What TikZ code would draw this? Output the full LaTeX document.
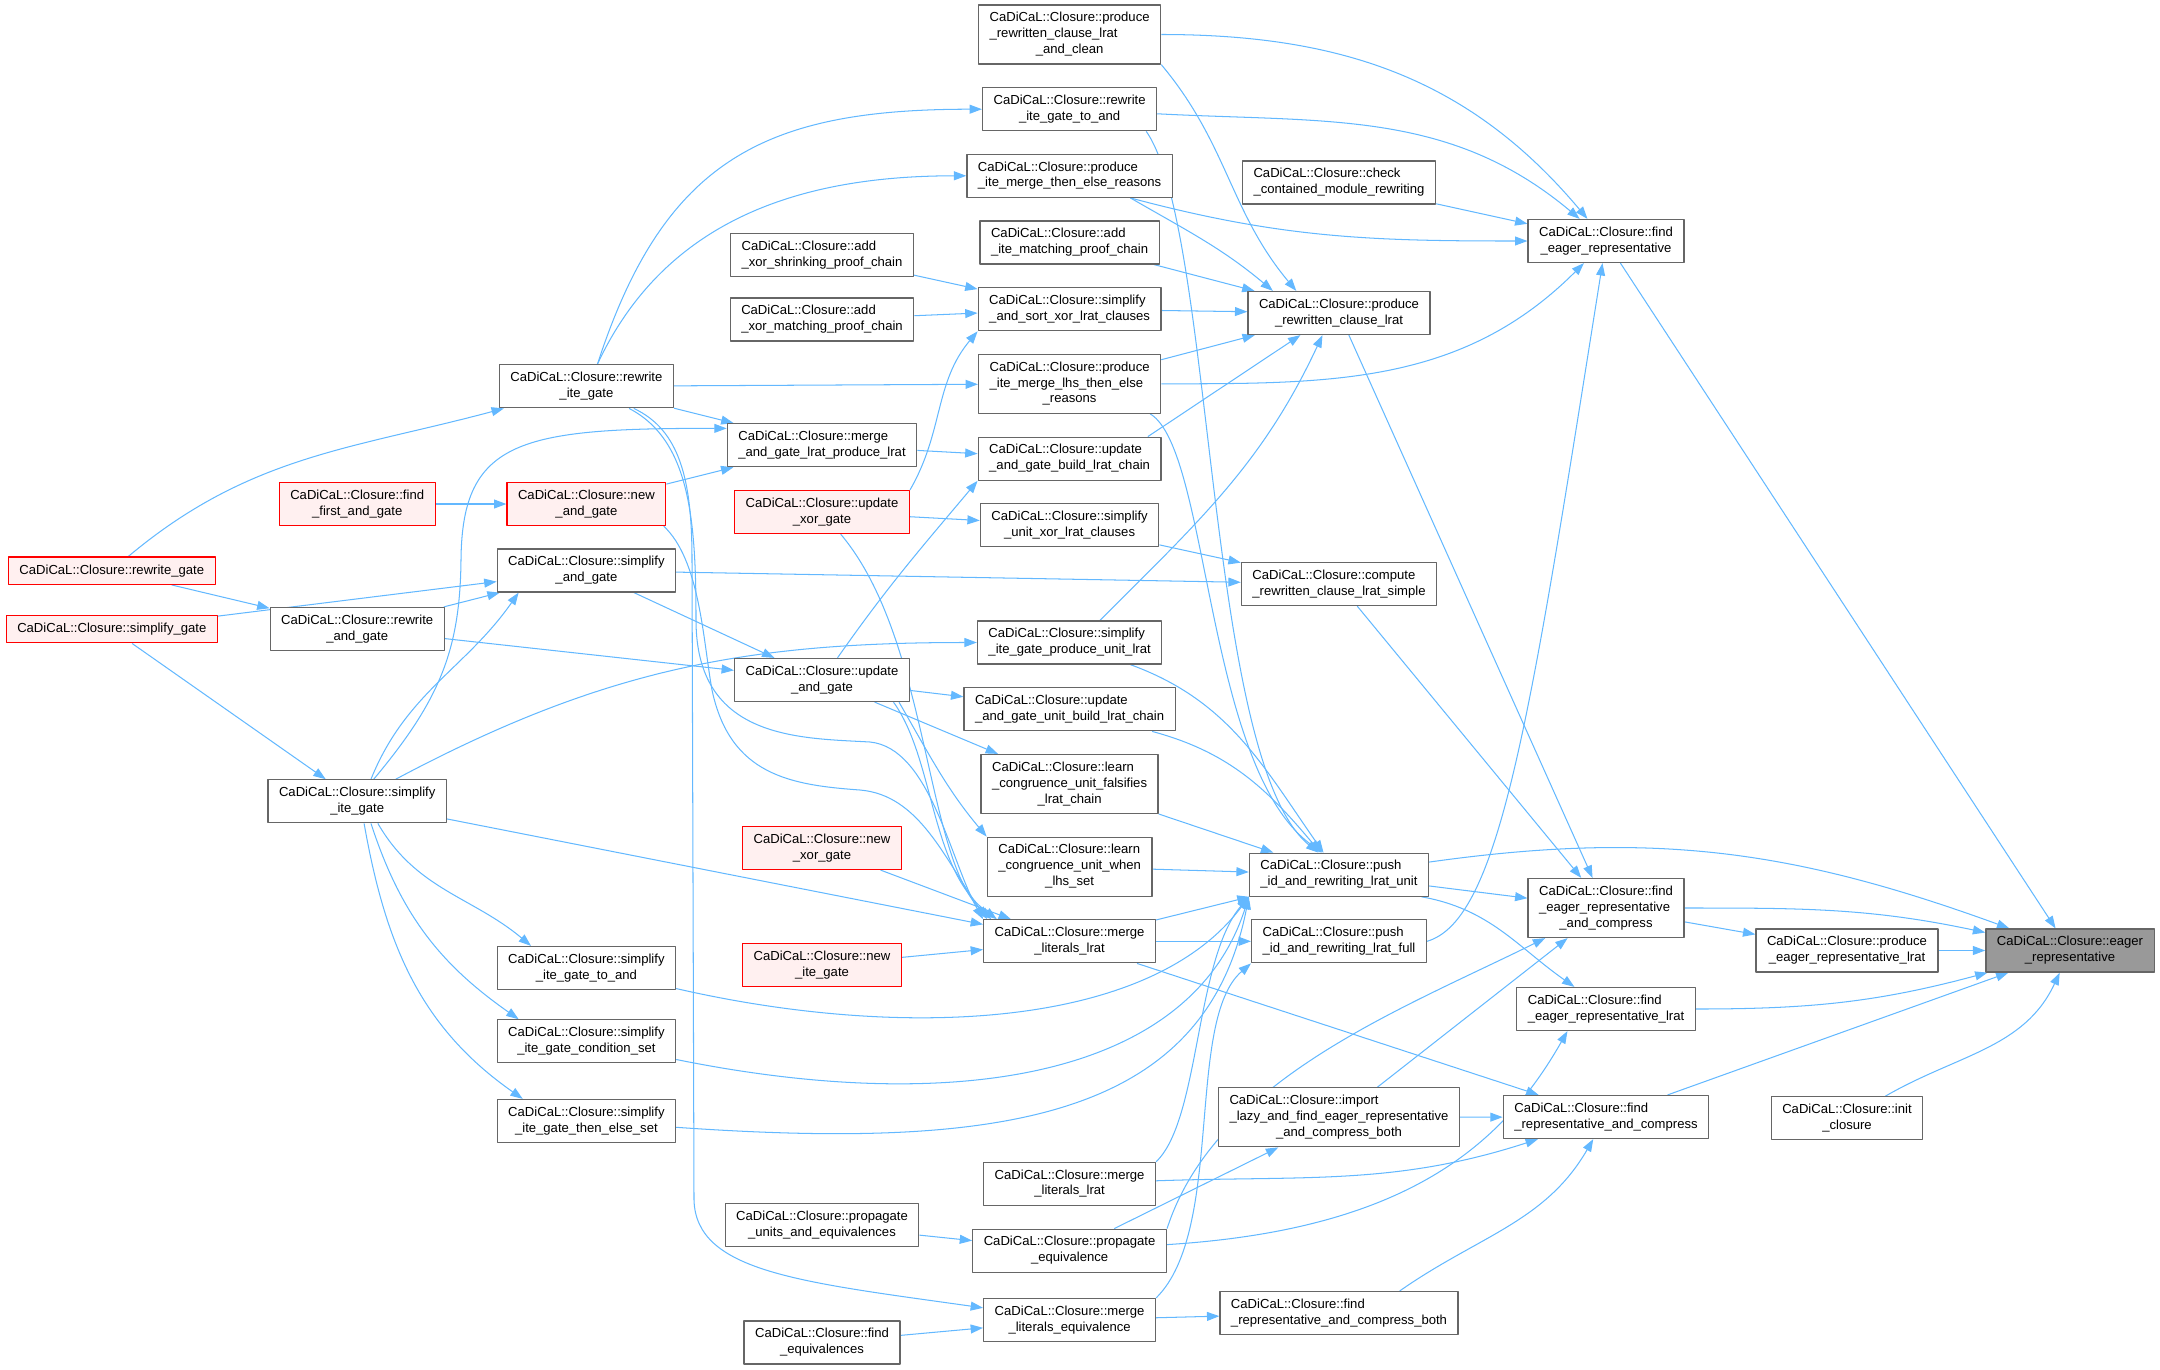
\documentclass[tikz,border=0pt]{standalone}
\usepackage{fontspec}
\setmainfont{Liberation Sans}
\usetikzlibrary{arrows.meta,backgrounds}
\definecolor{edgeblue}{HTML}{63B8FF}
\definecolor{boxgray}{HTML}{666666}
\definecolor{maingray}{HTML}{999999}
\definecolor{redfill}{HTML}{FFF0F0}
\newcommand{\fnfont}{\fontsize{9.5}{11.6}\selectfont}
\newcommand{\lbltwo}[2]{\begin{tabular}{@{}l@{}}#1\\\multicolumn{1}{@{}c@{}}{#2}\end{tabular}}
\newcommand{\lblthree}[3]{\begin{tabular}{@{}l@{}}#1\\#2\\\multicolumn{1}{@{}c@{}}{#3}\end{tabular}}

\begin{document}
\begin{tikzpicture}[x=0.726pt,y=-0.726pt,line cap=round,line join=round,
  fn/.style={draw=boxgray,fill=white,line width=0.9pt,inner xsep=8pt,inner ysep=4pt,minimum height=19.8pt,font=\fnfont,text=black},
  fnred/.style={fn,draw=red,fill=redfill},
  fnmain/.style={fn,fill=maingray},
  call/.style={draw=edgeblue,line width=0.75pt,-{Triangle[length=9pt,width=6.5pt]}}]
  \useasboundingbox (0,0) rectangle (2160,1369);

  % callee and its direct callers
  \node[fnmain] (eager) at (2070,950.5) {\lbltwo{CaDiCaL::Closure::eager}{\_representative}};
  \node[fn] (pelrat) at (1847,950.5) {\lbltwo{CaDiCaL::Closure::produce}{\_eager\_representative\_lrat}};
  \node[fn] (init) at (1847,1118.3) {\lbltwo{CaDiCaL::Closure::init}{\_closure}};
  \node[fn] (findeager) at (1606,241) {\lbltwo{CaDiCaL::Closure::find}{\_eager\_representative}};
  \node[fn] (fercomp) at (1606,908) {\lblthree{CaDiCaL::Closure::find}{\_eager\_representative}{\_and\_compress}};
  \node[fn] (ferlrat) at (1606,1009) {\lbltwo{CaDiCaL::Closure::find}{\_eager\_representative\_lrat}};
  \node[fn] (frc) at (1606,1117) {\lbltwo{CaDiCaL::Closure::find}{\_representative\_and\_compress}};

  \node[fn] (check) at (1339,182.5) {\lbltwo{CaDiCaL::Closure::check}{\_contained\_module\_rewriting}};
  \node[fn] (prclrat) at (1339,313) {\lbltwo{CaDiCaL::Closure::produce}{\_rewritten\_clause\_lrat}};
  \node[fn] (simple) at (1339,584) {\lbltwo{CaDiCaL::Closure::compute}{\_rewritten\_clause\_lrat\_simple}};
  \node[fn] (pushunit) at (1339,874.7) {\lbltwo{CaDiCaL::Closure::push}{\_id\_and\_rewriting\_lrat\_unit}};
  \node[fn] (pushfull) at (1339,941.3) {\lbltwo{CaDiCaL::Closure::push}{\_id\_and\_rewriting\_lrat\_full}};
  \node[fn] (import) at (1339,1117.3) {\lblthree{CaDiCaL::Closure::import}{\_lazy\_and\_find\_eager\_representative}{\_and\_compress\_both}};
  \node[fn] (frcboth) at (1339,1313) {\lbltwo{CaDiCaL::Closure::find}{\_representative\_and\_compress\_both}};

  \node[fn] (clean) at (1069.6,34.5) {\lblthree{CaDiCaL::Closure::produce}{\_rewritten\_clause\_lrat}{\_and\_clean}};
  \node[fn] (rite2and) at (1069.6,109.2) {\lbltwo{CaDiCaL::Closure::rewrite}{\_ite\_gate\_to\_and}};
  \node[fn] (itemte) at (1069.6,175.8) {\lbltwo{CaDiCaL::Closure::produce}{\_ite\_merge\_then\_else\_reasons}};
  \node[fn] (iteproof) at (1069.6,242.5) {\lbltwo{CaDiCaL::Closure::add}{\_ite\_matching\_proof\_chain}};
  \node[fn] (sortxor) at (1069.6,309.2) {\lbltwo{CaDiCaL::Closure::simplify}{\_and\_sort\_xor\_lrat\_clauses}};
  \node[fn] (lhste) at (1069.6,383.8) {\lblthree{CaDiCaL::Closure::produce}{\_ite\_merge\_lhs\_then\_else}{\_reasons}};
  \node[fn] (andbuild) at (1069.6,458.7) {\lbltwo{CaDiCaL::Closure::update}{\_and\_gate\_build\_lrat\_chain}};
  \node[fn] (unitxor) at (1069.6,525.3) {\lbltwo{CaDiCaL::Closure::simplify}{\_unit\_xor\_lrat\_clauses}};
  \node[fn] (iteunit) at (1069.6,642.5) {\lbltwo{CaDiCaL::Closure::simplify}{\_ite\_gate\_produce\_unit\_lrat}};
  \node[fn] (andunit) at (1069.6,709.3) {\lbltwo{CaDiCaL::Closure::update}{\_and\_gate\_unit\_build\_lrat\_chain}};
  \node[fn] (falsif) at (1069.6,784) {\lblthree{CaDiCaL::Closure::learn}{\_congruence\_unit\_falsifies}{\_lrat\_chain}};
  \node[fn] (whenlhs) at (1069.6,866.7) {\lblthree{CaDiCaL::Closure::learn}{\_congruence\_unit\_when}{\_lhs\_set}};
  \node[fn] (mlrat1) at (1069.6,941.3) {\lbltwo{CaDiCaL::Closure::merge}{\_literals\_lrat}};
  \node[fn] (mlrat2) at (1069.6,1183.8) {\lbltwo{CaDiCaL::Closure::merge}{\_literals\_lrat}};
  \node[fn] (propeq) at (1069.6,1250.7) {\lbltwo{CaDiCaL::Closure::propagate}{\_equivalence}};
  \node[fn] (mleq) at (1069.6,1320) {\lbltwo{CaDiCaL::Closure::merge}{\_literals\_equivalence}};

  \node[fn] (addxorshrink) at (822,255) {\lbltwo{CaDiCaL::Closure::add}{\_xor\_shrinking\_proof\_chain}};
  \node[fn] (addxormatch) at (822,319.6) {\lbltwo{CaDiCaL::Closure::add}{\_xor\_matching\_proof\_chain}};
  \node[fn] (mandlrat) at (822,445.2) {\lbltwo{CaDiCaL::Closure::merge}{\_and\_gate\_lrat\_produce\_lrat}};
  \node[fnred] (updxor) at (822,512) {\lbltwo{CaDiCaL::Closure::update}{\_xor\_gate}};
  \node[fn] (updand) at (822,680) {\lbltwo{CaDiCaL::Closure::update}{\_and\_gate}};
  \node[fnred] (newxor) at (822,848) {\lbltwo{CaDiCaL::Closure::new}{\_xor\_gate}};
  \node[fnred] (newite) at (822,965) {\lbltwo{CaDiCaL::Closure::new}{\_ite\_gate}};
  \node[fn] (propuae) at (822,1225) {\lbltwo{CaDiCaL::Closure::propagate}{\_units\_and\_equivalences}};
  \node[fn] (findeq) at (822,1342.5) {\lbltwo{CaDiCaL::Closure::find}{\_equivalences}};

  \node[fn] (ritegate) at (586.4,386.3) {\lbltwo{CaDiCaL::Closure::rewrite}{\_ite\_gate}};
  \node[fnred] (newand) at (586.4,504) {\lbltwo{CaDiCaL::Closure::new}{\_and\_gate}};
  \node[fn] (sandgate) at (586.4,570.5) {\lbltwo{CaDiCaL::Closure::simplify}{\_and\_gate}};
  \node[fn] (site2and) at (586.4,968) {\lbltwo{CaDiCaL::Closure::simplify}{\_ite\_gate\_to\_and}};
  \node[fn] (sitecond) at (586.4,1041.3) {\lbltwo{CaDiCaL::Closure::simplify}{\_ite\_gate\_condition\_set}};
  \node[fn] (sitete) at (586.4,1121) {\lbltwo{CaDiCaL::Closure::simplify}{\_ite\_gate\_then\_else\_set}};

  \node[fnred] (ffand) at (357.2,504) {\lbltwo{CaDiCaL::Closure::find}{\_first\_and\_gate}};
  \node[fn] (rwand) at (357.2,629) {\lbltwo{CaDiCaL::Closure::rewrite}{\_and\_gate}};
  \node[fn] (sitegate) at (357.2,801.3) {\lbltwo{CaDiCaL::Closure::simplify}{\_ite\_gate}};
  \node[fnred] (rwgate) at (111.8,570.7) {CaDiCaL::Closure::rewrite\_gate};
  \node[fnred] (simpgate) at (111.8,629.2) {CaDiCaL::Closure::simplify\_gate};

  \begin{scope}[on background layer]
  % into eager_representative
  \draw[call] (findeager) -- (eager);
  \draw[call] (pushunit) to[out=8,in=160] (eager);
  \draw[call] (fercomp) to[out=0,in=168] (eager);
  \draw[call] (pelrat) -- (eager);
  \draw[call] (ferlrat) to[out=0,in=195] (eager);
  \draw[call] (frc) -- (eager);
  \draw[call] (init) to[out=30,in=-115] (eager);
  \draw[call] (fercomp) -- (pelrat);

  \draw[call] (clean) to[out=0,in=130] (findeager);
  \draw[call] (rite2and) to[out=-3,in=140] (findeager);
  \draw[call] (check) -- (findeager);
  \draw[call] (itemte.-20) to[out=-15,in=180] (findeager);
  \draw[call] (lhste) to[out=0,in=-135] (findeager);
  \draw[call] (pushfull.east) .. controls (1500,920) and (1530,720) .. (findeager);

  \draw[call] (prclrat) -- (fercomp);
  \draw[call] (simple) -- (fercomp);
  \draw[call] (pushunit) -- (fercomp);
  \draw[call] (import) -- (fercomp);
  \draw[call] (propeq.north east) .. controls (1215,1080) and (1400,1010) .. (fercomp);
  \draw[call] (pushunit.-15) to[out=-10,in=145] (ferlrat);
  \draw[call] (propeq) .. controls (1400,1230) and (1500,1150) .. ([xshift=-28pt]ferlrat.south);
  \draw[call] (mlrat1) -- (frc);
  \draw[call] (import) -- (frc);
  \draw[call] (mlrat2) to[out=2,in=-162] (frc);
  \draw[call] (frcboth.20) to[out=35,in=-120] (frc);

  \draw[call] (clean.south east) to[out=-50,in=130] ([xshift=-31pt]prclrat.north);
  \draw[call] (itemte.-20) to[out=-30,in=140] ([xshift=-48pt]prclrat.north);
  \draw[call] (iteproof) -- (prclrat);
  \draw[call] (sortxor) -- (prclrat);
  \draw[call] (lhste) -- (prclrat);
  \draw[call] ([xshift=-10pt]andbuild.north east) -- ([xshift=-28pt]prclrat.south);
  \draw[call] ([xshift=22pt]iteunit.north) to[out=45,in=-115] ([xshift=-12pt]prclrat.south);
  \draw[call] (unitxor) -- (simple);
  \draw[call] (sandgate) -- (simple);

  \draw[call] ([xshift=-8pt]rite2and.south east) .. controls (1215,230) and (1205,760) .. ([xshift=-15pt]pushunit.north);
  \draw[call] ([xshift=-8pt]lhste.south east) .. controls (1210,450) and (1205,770) .. ([xshift=-12pt]pushunit.north);
  \draw[call] (iteunit) to[out=-20,in=125] (pushunit);
  \draw[call] (andunit) to[out=-15,in=130] (pushunit);
  \draw[call] (falsif) -- (pushunit);
  \draw[call] (whenlhs) -- (pushunit);
  \draw[call] (mlrat1) -- (pushunit);
  \draw[call] (site2and) .. controls (900,1040) and (1150,1030) .. (pushunit.south west);
  \draw[call] (sitecond) .. controls (950,1115) and (1190,1080) .. (pushunit.south west);
  \draw[call] (sitete) .. controls (1000,1150) and (1205,1120) .. (pushunit.south west);
  \draw[call] (mlrat2.north east) .. controls (1200,1120) and (1195,960) .. (pushunit.south west);
  \draw[call] (mlrat1) -- (pushfull);
  \draw[call] (mleq.north east) .. controls (1225,1230) and (1185,1020) .. (pushfull.south west);
  \draw[call] (propeq) -- (import);
  \draw[call] (mleq) -- (frcboth);

  % callers of the middle column
  \draw[call] ([xshift=8pt]ritegate.north) to[out=72,in=180,looseness=1.2] (rite2and);
  \draw[call] ([xshift=8pt]ritegate.north) to[out=65,in=180] (itemte);
  \draw[call] (ritegate) -- (lhste);
  \draw[call] (addxorshrink) -- (sortxor);
  \draw[call] (addxormatch) -- (sortxor);
  \draw[call] (updxor.north east) to[out=60,in=-130] (sortxor.south west);
  \draw[call] (mandlrat) -- (andbuild);
  \draw[call] (updand) to[out=55,in=-130] (andbuild.south west);
  \draw[call] (updxor) -- (unitxor);
  \draw[call] ([xshift=28pt]sitegate.north) to[out=28,in=180] (iteunit);
  \draw[call] (updand) -- (andunit);
  \draw[call] (updand) -- (falsif);
  \draw[call] ([xshift=-8pt]updand.south east) to[out=-60,in=130] (whenlhs.north west);
  \draw[call] (propuae) -- (propeq);
  \draw[call] (findeq) -- (mleq);
  \draw[call] (ritegate) .. controls (680,430) and (692,480) .. (692,560) -- (694,1200) .. controls (696,1272) and (800,1282) .. (mleq);

  \draw[call] (ritegate) .. controls (690,440) and (696,520) .. (696,620) .. controls (696,740) and (800,738) .. (870,742) .. controls (930,748) and (950,860) .. (mlrat1.north west);
  \draw[call] ([xshift=-2pt]newand.south east) .. controls (700,560) and (703,640) .. (712,690) .. controls (730,775) and (790,785) .. (860,790) .. controls (920,795) and (945,860) .. ([xshift=3pt]mlrat1.north west);
  \draw[call] (updxor) .. controls (930,640) and (925,860) .. ([xshift=6pt]mlrat1.north west);
  \draw[call] ([xshift=-12pt]updand.south east) .. controls (935,760) and (930,870) .. ([xshift=10pt]mlrat1.north west);
  \draw[call] (newxor) -- (mlrat1);
  \draw[call] (newite) -- (mlrat1);
  \draw[call] (sitegate) -- (mlrat1);

  \draw[call] (ritegate) -- (mandlrat);
  \draw[call] ([xshift=12pt]sitegate.north) .. controls (440,700) and (460,650) .. (461,560) .. controls (462,440) and (520,428) .. (mandlrat.170);
  \draw[call] (newand) -- (mandlrat);
  \draw[call] (sandgate) -- (updand);
  \draw[call] (rwand) -- (updand);

  % left part
  \draw[call] ([xshift=12pt]rwgate.north) to[out=40,in=195] (ritegate);
  \draw[call] (ffand) -- (newand);
  \draw[call] (simpgate) -- (sandgate);
  \draw[call] (rwand) -- (sandgate);
  \draw[call] ([xshift=10pt]sitegate.north) to[out=68,in=-125] ([xshift=16pt]sandgate.south west);
  \draw[call] ([xshift=15pt]sitegate.south) to[out=-60,in=140] ([xshift=25pt]site2and.north west);
  \draw[call] ([xshift=10pt]sitegate.south) to[out=-72,in=145] ([xshift=16pt]sitecond.north west);
  \draw[call] ([xshift=5pt]sitegate.south) to[out=-80,in=145] ([xshift=19pt]sitete.north west);
  \draw[call] (rwgate) -- (rwand);
  \draw[call] (simpgate) -- (sitegate);
  \end{scope}
\end{tikzpicture}
\end{document}
